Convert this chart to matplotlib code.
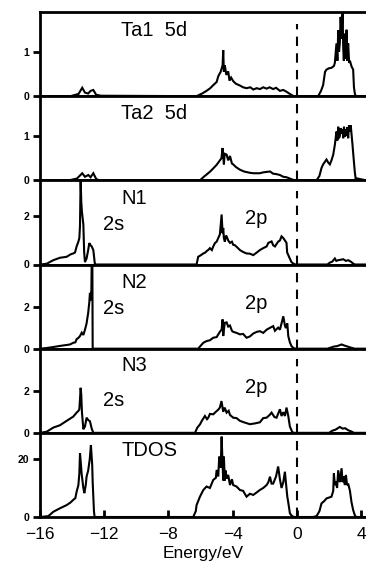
import matplotlib
matplotlib.use("Agg")
import matplotlib.pyplot as plt
import matplotlib.transforms as mtransforms

plt.rcParams['font.family'] = ['Liberation Sans', 'DejaVu Sans']

# ---------------- data (Energy in eV, DOS in states/eV) ----------------
ta1_E = [-16, -14.1, -13.6, -13.37, -13.2, -13.0, -12.85, -12.68, -12.5, -12.2,
         -6.25, -5.9, -5.63, -5.4, -5.21, -5.0, -4.9, -4.75, -4.63, -4.59, -4.55, -4.49,
         -4.4, -4.28, -4.2, -4.1, -3.97, -3.8, -3.55, -3.35, -3.14, -2.9, -2.72, -2.51,
         -2.3, -2.1, -1.89, -1.7, -1.48, -1.3, -1.06, -0.85, -0.65, -0.44, -0.2,
         1.32, 1.5, 1.63, 1.75, 1.84, 2.0, 2.15, 2.3, 2.36, 2.46, 2.52, 2.57, 2.62, 2.67,
         2.72, 2.78, 2.84, 2.88, 2.92, 2.98, 3.05, 3.09, 3.13, 3.19, 3.25, 3.3, 3.4, 3.5,
         3.55, 3.61, 3.67, 4.3]
ta1_D = [0, 0, 0.05, 0.19, 0.08, 0.06, 0.12, 0.14, 0.03, 0.01,
         0, 0.06, 0.12, 0.18, 0.25, 0.32, 0.45, 0.55, 0.7, 1.04, 0.55, 0.7,
         0.48, 0.56, 0.35, 0.42, 0.34, 0.28, 0.24, 0.2, 0.18, 0.2, 0.15, 0.18,
         0.16, 0.2, 0.17, 0.2, 0.16, 0.19, 0.12, 0.14, 0.1, 0.05, 0,
         0, 0.12, 0.25, 0.55, 0.6, 0.63, 0.64, 0.68, 0.75, 1.19, 0.8, 1.49, 1.0, 1.2,
         1.79, 1.3, 1.95, 1.1, 0.8, 1.41, 0.85, 1.5, 0.8, 1.19, 0.75, 0.8, 0.67, 0.6,
         0.2, 0.05, 0, 0]

ta2_E = [-16, -14.2, -13.7, -13.37, -13.2, -12.99, -12.85, -12.68, -12.5, -12.3,
         -6.04, -5.8, -5.63, -5.4, -5.21, -5.0, -4.8, -4.7, -4.63, -4.55, -4.5, -4.38,
         -4.28, -4.17, -4.05, -3.97, -3.8, -3.55, -3.3, -2.93, -2.7, -2.31, -2.1, -1.68,
         -1.48, -1.27, -1.06, -0.85, -0.65, -0.44, -0.23, -0.1,
         1.22, 1.4, 1.53, 1.63, 1.84, 1.95, 2.05, 2.15, 2.26, 2.36, 2.46, 2.52, 2.57,
         2.62, 2.67, 2.72, 2.78, 2.84, 2.88, 2.93, 2.98, 3.03, 3.09, 3.14, 3.19, 3.24,
         3.29, 3.35, 3.46, 3.54, 3.6, 3.65, 4.3]
ta2_D = [0, 0, 0.04, 0.16, 0.08, 0.12, 0.07, 0.16, 0.03, 0,
         0, 0.08, 0.13, 0.2, 0.27, 0.35, 0.45, 0.5, 0.73, 0.36, 0.6, 0.58,
         0.45, 0.55, 0.38, 0.36, 0.3, 0.24, 0.2, 0.17, 0.16, 0.16, 0.18, 0.2,
         0.15, 0.14, 0.12, 0.08, 0.07, 0.04, 0.01, 0,
         0, 0.1, 0.28, 0.36, 0.47, 0.4, 0.36, 0.45, 0.58, 0.8, 1.1, 0.9, 1.21,
         0.95, 1.0, 1.18, 1.05, 1.15, 0.95, 1.21, 0.98, 1.15, 1.0, 1.2, 0.95, 1.24,
         1.1, 1.24, 0.8, 0.45, 0.2, 0.05, 0]

n1_E = [-16, -15.59, -15.17, -14.76, -14.34, -14.1, -13.93, -13.82, -13.72, -13.61,
        -13.55, -13.51, -13.47, -13.43, -13.39, -13.3, -13.25, -13.2, -13.1, -13.0,
        -12.93, -12.85, -12.78, -12.68, -12.58, -12.5,
        -6.25, -6.15, -6.0, -5.83, -5.7, -5.63, -5.5, -5.42, -5.3, -5.21, -5.11, -5.0,
        -4.9, -4.8, -4.69, -4.63, -4.59, -4.55, -4.49, -4.42, -4.38, -4.28, -4.17,
        -4.05, -3.97, -3.86, -3.7, -3.55, -3.35, -3.14, -2.93, -2.72, -2.5, -2.31,
        -2.1, -1.89, -1.78, -1.58, -1.48, -1.37, -1.17, -1.06, -0.96, -0.85, -0.75,
        -0.65, -0.61, -0.48, -0.34, -0.23, -0.1,
        1.9, 2.05, 2.2, 2.36, 2.45, 2.57, 2.75, 2.88, 3.05, 3.19, 3.35, 3.5, 3.6, 4.3]
n1_D = [0, 0.03, 0.18, 0.28, 0.32, 0.42, 0.46, 0.5, 0.75, 0.95,
        1.1, 1.6, 3.6, 2.6, 2.2, 1.66, 0.5, 0.1, 0.25, 0.6,
        0.89, 0.8, 0.75, 0.6, 0.0, 0,
        0, 0.32, 0.38, 0.46, 0.5, 0.55, 0.62, 0.68, 0.6, 0.75, 0.89, 0.95,
        1.1, 1.25, 2.08, 1.3, 1.52, 1.1, 0.95, 1.2, 1.17, 1.0, 0.9,
        0.95, 0.82, 0.8, 0.7, 0.6, 0.52, 0.46, 0.45, 0.39, 0.5, 0.6,
        0.68, 0.75, 0.9, 0.96, 0.8, 0.75, 0.95, 1.0, 1.17, 1.1, 1.0,
        0.9, 0.5, 0.3, 0.1, 0.04, 0,
        0, 0.08, 0.12, 0.25, 0.15, 0.18, 0.2, 0.22, 0.15, 0.18, 0.12, 0.04, 0, 0]

n2_E = [-16, -15.59, -15.0, -14.76, -14.3, -14.13, -13.93, -13.8, -13.72, -13.6,
        -13.51, -13.4, -13.3, -13.2, -13.1, -13.0, -12.93, -12.89, -12.85, -12.8,
        -12.78, -12.74, -12.72, -12.6,
        -6.15, -6.04, -5.83, -5.63, -5.42, -5.21, -5.0, -4.8, -4.69, -4.63, -4.59,
        -4.55, -4.49, -4.38, -4.28, -4.17, -4.05, -3.97, -3.76, -3.55, -3.35, -3.14,
        -2.93, -2.72, -2.5, -2.31, -2.1, -1.89, -1.78, -1.48, -1.37, -1.17, -1.06,
        -0.96, -0.85, -0.75, -0.69, -0.6, -0.54, -0.44, -0.34, -0.23, -0.1,
        1.9, 2.1, 2.3, 2.5, 2.78, 2.95, 3.15, 3.35, 3.6, 4.3]
n2_D = [0, 0.03, 0.1, 0.13, 0.18, 0.2, 0.28, 0.3, 0.45, 0.52,
        0.6, 0.76, 0.65, 0.9, 1.2, 1.7, 2.2, 2.65, 2.3, 2.8,
        4.2, 4.2, 0, 0,
        0, 0.1, 0.28, 0.36, 0.4, 0.52, 0.55, 0.8, 0.91, 1.39, 0.6,
        0.9, 1.23, 1.25, 1.05, 1.1, 0.85, 0.8, 0.75, 0.68, 0.7, 0.52,
        0.58, 0.72, 0.8, 0.83, 0.75, 0.9, 0.95, 1.07, 0.85, 1.0, 0.9,
        1.2, 1.54, 1.1, 0.98, 1.2, 0.6, 0.3, 0.12, 0.04, 0,
        0, 0.05, 0.1, 0.12, 0.2, 0.15, 0.1, 0.05, 0, 0]

n3_E = [-16, -15.59, -15.17, -14.76, -14.34, -13.93, -13.72, -13.6, -13.55, -13.51,
        -13.47, -13.43, -13.39, -13.3, -13.2, -13.1, -12.99, -12.89, -12.78, -12.68,
        -6.35, -6.2, -6.04, -5.9, -5.73, -5.6, -5.52, -5.42, -5.21, -5.05, -4.9, -4.8,
        -4.7, -4.59, -4.5, -4.38, -4.25, -4.17, -3.97, -3.76, -3.55, -3.3, -2.93, -2.6,
        -2.31, -2.1, -1.89, -1.7, -1.58, -1.4, -1.27, -1.06, -0.96, -0.85, -0.75,
        -0.65, -0.54, -0.44, -0.3, -0.2,
        2.0, 2.2, 2.4, 2.67, 2.85, 3.0, 3.2, 3.4, 3.55, 4.3]
n3_D = [0, 0.05, 0.25, 0.36, 0.57, 0.77, 0.96, 1.05, 1.12, 1.6,
        2.14, 1.8, 1.0, 0.17, 0.3, 0.72, 0.6, 0.55, 0.2, 0,
        0, 0.25, 0.4, 0.6, 0.8, 0.65, 0.72, 0.9, 0.88, 1.0, 1.1, 1.2,
        1.51, 1.0, 1.2, 0.96, 1.05, 0.85, 0.72, 0.7, 0.57, 0.5, 0.41, 0.45,
        0.5, 0.7, 0.72, 0.85, 0.96, 0.75, 0.72, 1.12, 0.8, 0.98, 0.8,
        1.2, 0.8, 0.3, 0.05, 0,
        0, 0.1, 0.15, 0.28, 0.2, 0.22, 0.12, 0.06, 0, 0]

tdos_E = [-16, -15.48, -15.17, -14.76, -14.34, -14.1, -13.93, -13.8, -13.72, -13.61,
          -13.55, -13.51, -13.45, -13.41, -13.3, -13.24, -13.15, -13.1, -13.0, -12.9,
          -12.83, -12.75, -12.72, -12.64, -12.6,
          -6.46, -6.3, -6.25, -6.04, -5.83, -5.63, -5.42, -5.21, -5.05, -5.0, -4.9,
          -4.84, -4.75, -4.69, -4.63, -4.59, -4.55, -4.49, -4.44, -4.38, -4.28, -4.17,
          -4.05, -3.97, -3.76, -3.55, -3.35, -3.14, -2.93, -2.72, -2.5, -2.31, -2.1,
          -1.89, -1.78, -1.68, -1.58, -1.48, -1.3, -1.17, -1.06, -0.96, -0.85, -0.75,
          -0.69, -0.6, -0.54, -0.44, -0.34, -0.2, -0.1,
          1.0, 1.22, 1.4, 1.53, 1.7, 1.84, 2.05, 2.15, 2.26, 2.3, 2.36, 2.42, 2.5, 2.57,
          2.67, 2.78, 2.84, 2.9, 2.98, 3.05, 3.12, 3.19, 3.3, 3.4, 3.5, 3.61, 3.7, 4.3]
tdos_D = [0, 0.3, 1.8, 3.0, 4.1, 5.0, 5.9, 6.5, 8.7, 11.0,
          15.0, 22.0, 18.0, 15.0, 10.0, 8.2, 11.0, 13.9, 16.0, 20.0,
          24.8, 18.0, 12.1, 2.0, 0,
          0, 2.0, 4.1, 7.0, 9.3, 10.5, 10.0, 12.8, 13.5, 16.2, 14.0,
          20.8, 17.0, 27.7, 18.0, 12.6, 20.8, 12.6, 16.0, 13.2, 14.5, 11.0,
          13.0, 11.0, 10.5, 9.3, 9.0, 7.0, 8.0, 7.6, 8.5, 9.3, 10.0,
          11.0, 12.0, 13.9, 11.5, 11.5, 14.0, 17.4, 13.0, 10.0, 12.0, 15.6,
          12.0, 7.0, 5.0, 1.3, 0.5, 0, 0,
          0, 0.3, 2.0, 4.7, 5.5, 6.4, 6.8, 7.0, 9.0, 15.0, 11.0, 12.3, 10.0, 16.1,
          12.0, 16.8, 12.0, 14.0, 11.0, 14.5, 11.0, 11.5, 9.0, 5.0, 2.4, 0.5, 0, 0]

panel_names = ["Ta1  5d", "Ta2  5d", "N1", "N2", "N3", "TDOS"]
panel_ymax = [1.9, 1.9, 3.5, 4.0, 4.0, 29.0]
panel_yticks = [[0, 1], [0, 1], [0, 2], [0, 2], [0, 2], [0, 20]]
xticks = [-16, -12, -8, -4, 0, 4]
xtick_labels = ["\u221216", "\u221212", "\u22128", "\u22124", "0", "4"]
series = [(ta1_E, ta1_D), (ta2_E, ta2_D), (n1_E, n1_D), (n2_E, n2_D),
          (n3_E, n3_D), (tdos_E, tdos_D)]

# ---------------- figure ----------------
W, H = 366, 564
fig = plt.figure(figsize=(W / 100, H / 100), dpi=100)
left_px, right_px, top_px, bot_px = 40, 366, 12, 517
ph = (bot_px - top_px) / 6.0

dash_top = [0.86, 1.0, 0.87, 1.0, 0.88, 1.0]
name_y = [0.71, 0.725, 0.72, 0.725, 0.73, 0.72]
s_y = [None, None, 0.41, 0.41, 0.32, None]
p_y = [None, None, 0.48, 0.475, 0.47, None]

axes = []
for i in range(6):
    y0 = H - (top_px + (i + 1) * ph)
    ax = fig.add_axes([left_px / W, y0 / H, (right_px - left_px) / W, ph / H])
    axes.append(ax)
    E, D = series[i]
    ax.plot(E, D, color='black', lw=1.5, solid_joinstyle='miter')
    ax.set_xlim(-16, 4.3)
    ax.set_ylim(0, panel_ymax[i])
    ax.axvline(0, ymin=0, ymax=dash_top[i], color='black', lw=1.5,
               dashes=(4.5, 3.5))
    for s in ['left', 'top', 'bottom']:
        ax.spines[s].set_linewidth(2.0)
    ax.spines['right'].set_visible(False)
    ax.set_yticks(panel_yticks[i])
    ax.set_yticklabels([str(v) for v in panel_yticks[i]],
                       fontsize=7.5, fontweight='bold')
    ax.tick_params(axis='y', direction='out', length=5, width=2.0, pad=3)
    trans = mtransforms.blended_transform_factory(ax.transData, ax.transAxes)
    ax.text(-10.95, name_y[i], panel_names[i], transform=trans, fontsize=14.5,
            ha='left', va='baseline')
    if s_y[i] is not None:
        ax.text(-12.1, s_y[i], "2s", transform=trans, fontsize=14.5,
                ha='left', va='baseline')
        ax.text(-3.25, p_y[i], "2p", transform=trans, fontsize=14.5,
                ha='left', va='baseline')
    if i < 5:
        ax.set_xticks([])
    else:
        ax.set_xticks(xticks)
        ax.set_xticklabels(xtick_labels, fontsize=12.5)
        ax.tick_params(axis='x', direction='in', length=5, width=2.0, pad=7)
        ax.set_xlabel("Energy/eV", fontsize=12.5, labelpad=3)

fig.savefig("out.png", dpi=100)
